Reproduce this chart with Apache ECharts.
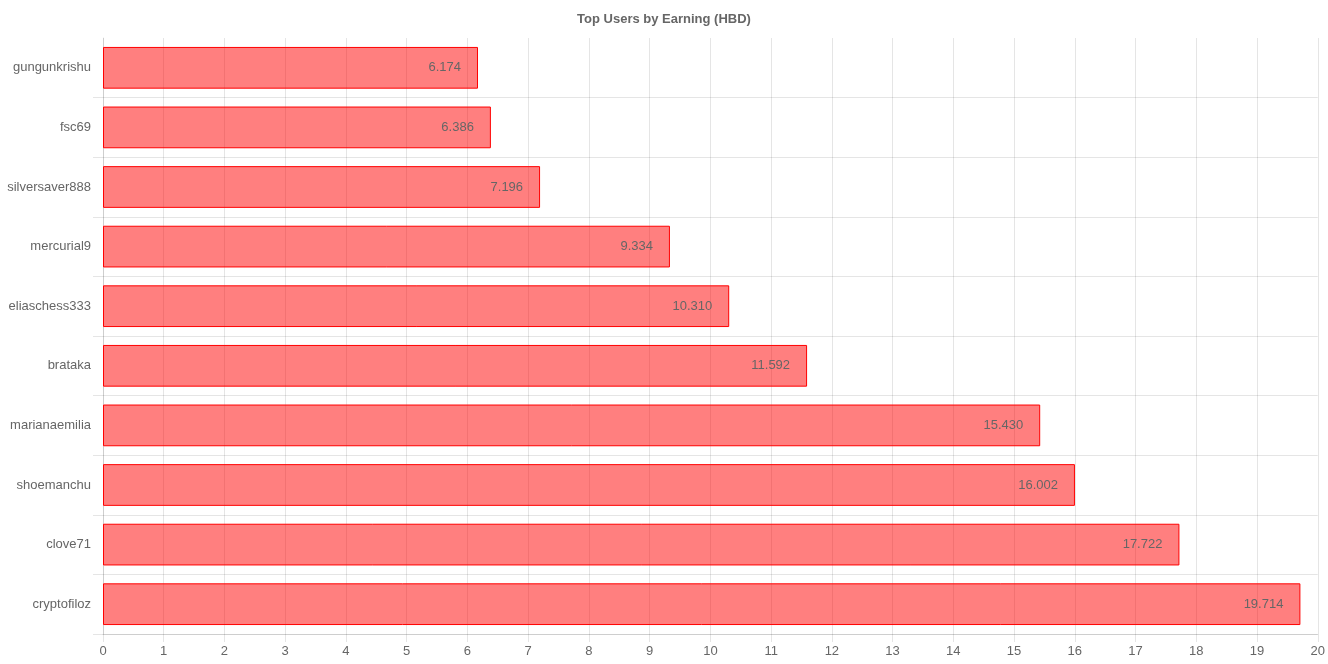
<!DOCTYPE html>
<html>
<head>
<meta charset="utf-8">
<script src="https://cdn.jsdelivr.net/npm/echarts@6/dist/echarts.min.js"></script>
<style>html,body{margin:0;padding:0;background:#fff}#c{width:1328px;height:664px}</style>
</head>
<body>
<div id="c"></div>
<script>
const categories = ["gungunkrishu","fsc69","silversaver888","mercurial9","eliaschess333","brataka","marianaemilia","shoemanchu","clove71","cryptofiloz"];
const earnings = [6.174, 6.386, 7.196, 9.334, 10.310, 11.592, 15.430, 16.002, 17.722, 19.714];
const xTicks = {min: 0, max: 20, interval: 1};
const titleText = "Top Users by Earning (HBD)";

const font = "Arial, 'Liberation Sans', Helvetica, sans-serif";
const gridColor = "rgba(0,0,0,0.1)";
const chart = echarts.init(document.getElementById('c'));
chart.setOption({
  animation: false,
  title: {
    text: titleText, left: 'center', top: 8,
    textStyle: {fontFamily: font, fontSize: 13, fontWeight: 'bold', color: '#666'}
  },
  grid: {left: 103, right: 9, top: 38, bottom: 30, containLabel: false},
  xAxis: {
    type: 'value', min: xTicks.min, max: xTicks.max, interval: xTicks.interval,
    axisLine: {show: true, lineStyle: {color: gridColor}},
    axisTick: {show: true, length: 8, lineStyle: {color: gridColor}},
    splitLine: {show: true, lineStyle: {color: gridColor}},
    axisLabel: {color: '#666', fontFamily: font, fontSize: 13, margin: 11}
  },
  yAxis: {
    type: 'category', data: categories, inverse: true,
    axisLine: {show: true, lineStyle: {color: gridColor}},
    axisTick: {show: true, length: 10, interval: function (i) { return i !== 0; }, lineStyle: {color: gridColor}},
    splitLine: {show: true, interval: function (i) { return i !== 0; }, lineStyle: {color: gridColor}},
    axisLabel: {color: '#666', fontFamily: font, fontSize: 13, margin: 12}
  },
  series: [{
    type: 'bar', data: earnings, barWidth: '70%',
    itemStyle: {color: 'rgba(255,0,0,0.5)', borderColor: 'rgb(255,0,0)', borderWidth: 1},
    label: {
      show: true, position: 'insideRight', distance: 17,
      color: '#666', fontFamily: font, fontSize: 13,
      formatter: p => p.value.toFixed(3)
    }
  }]
});
</script>
</body>
</html>
